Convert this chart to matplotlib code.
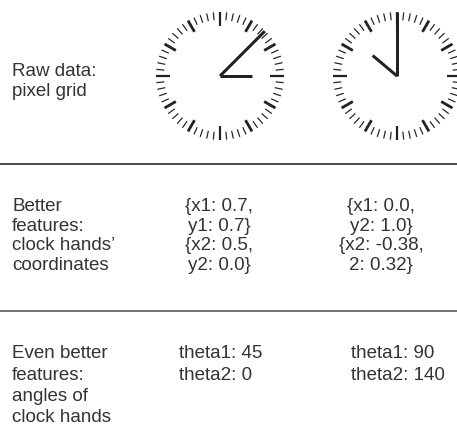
import numpy as np
import matplotlib
matplotlib.use("Agg")
import matplotlib.pyplot as plt

# ---------------------------------------------------------
# data
# ---------------------------------------------------------
# clock hands in unit coordinates (hand 1, hand 2)
hands_a = [(0.7, 0.7), (0.5, 0.0)]
hands_b = [(0.0, 1.0), (-0.38, 0.32)]

row_labels = [
    ["Raw data:", "pixel grid"],
    ["Better", "features:", "clock hands\u2019", "coordinates"],
    ["Even better", "features:", "angles of", "clock hands"],
]
coord_text_a = ["{x1: 0.7,", "y1: 0.7}", "{x2: 0.5,", "y2: 0.0}"]
coord_text_b = ["{x1: 0.0,", "y2: 1.0}", "{x2: -0.38,", "2: 0.32}"]
theta_a = [45, 0]
theta_b = [90, 140]

W, H = 457, 428
INK = "#222222"
TXT = "#333333"
FS = 13.5
PT = 0.72  # points per pixel at dpi 100

fig = plt.figure(figsize=(W / 100, H / 100), dpi=100)
ax = fig.add_axes([0, 0, 1, 1])
ax.set_xlim(0, W)
ax.set_ylim(H, 0)
ax.axis("off")


# ---------------------------------------------------------
# draw one clock face with its two hands
# ---------------------------------------------------------
def draw_clock(cx, cy, hands, R=64):
    for i in range(60):
        ang = 2 * np.pi * i / 60
        if i % 15 == 0:
            r_in, lw = R - 14, 2.2
        elif i % 5 == 0:
            r_in, lw = R - 13, 2.8
        else:
            r_in, lw = R - 8, 1.2
        xs = [cx + r_in * np.sin(ang), cx + R * np.sin(ang)]
        ys = [cy - r_in * np.cos(ang), cy - R * np.cos(ang)]
        ax.plot(xs, ys, color=INK, lw=lw * PT, solid_capstyle="butt")
    for hx, hy in hands:
        ax.plot([cx, cx + hx * R], [cy, cy - hy * R], color=INK,
                lw=3 * PT, solid_capstyle="butt")


draw_clock(220, 76, hands_a)
draw_clock(397, 76, hands_b)

# separators
ax.plot([0, W], [164, 164], color="#222222", lw=1.6 * PT)
ax.plot([0, W], [311, 311], color="#555555", lw=1.6 * PT)

# left column labels: (first baseline, line step)
sections = [(75.7, 20.0), (210.7, 19.8), (358.3, 21.3)]
for lines, (y0, step) in zip(row_labels, sections):
    for k, s in enumerate(lines):
        ax.text(12, y0 + k * step, s, fontsize=FS, color=TXT,
                family="Liberation Sans", va="baseline", ha="left")

# coordinate features
for k, s in enumerate(coord_text_a):
    ax.text(219, 210.7 + k * 19.8, s, fontsize=FS, color=TXT,
            family="Liberation Sans", va="baseline", ha="center")
for k, s in enumerate(coord_text_b):
    ax.text(381, 210.7 + k * 19.8, s, fontsize=FS, color=TXT,
            family="Liberation Sans", va="baseline", ha="center")

# angle features
for k, v in enumerate(theta_a):
    ax.text(179, 358.3 + k * 21.3, f"theta{k + 1}: {v}", fontsize=FS,
            color=TXT, family="Liberation Sans", va="baseline", ha="left")
for k, v in enumerate(theta_b):
    ax.text(351, 358.3 + k * 21.3, f"theta{k + 1}: {v}", fontsize=FS,
            color=TXT, family="Liberation Sans", va="baseline", ha="left")

fig.savefig("out.png", dpi=100)
